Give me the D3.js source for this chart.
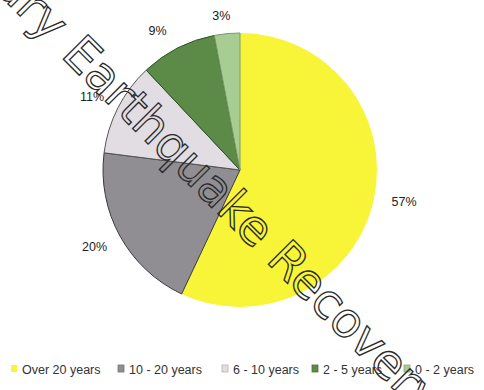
<!DOCTYPE html>
<html>
<head>
<meta charset="utf-8">
<script src="https://cdn.jsdelivr.net/npm/d3@7"></script>
<style>
  html, body { margin: 0; padding: 0; background: #fff; }
  svg { display: block; }
</style>
</head>
<body>
<script>
const categories = ["Over 20 years", "10 - 20 years", "6 - 10 years", "2 - 5 years", "0 - 2 years"];
const values = [57, 20, 11, 9, 3];
const labels = ["57%", "20%", "11%", "9%", "3%"];
const colors = ["#f8f438", "#908e93", "#e2dce3", "#5b8b47", "#a8cd92"];
const strokes = ["none", "#3a3a3a", "#555", "#2f4f2a", "#7a9a6a"];

const W = 484, H = 390;
const cx = 240, cy = 170, R = 137;

const svg = d3.select("body").append("svg").attr("width", W).attr("height", H);

const pie = d3.pie().sort(null).value(d => d.v);
const data = pie(categories.map((c, i) => ({ c, v: values[i], i })));
const arc = d3.arc().innerRadius(0).outerRadius(R);

const g = svg.append("g").attr("transform", `translate(${cx},${cy})`);
g.selectAll("path.slice")
  .data(data)
  .join("path")
  .attr("class", "slice")
  .attr("d", arc)
  .attr("fill", d => colors[d.data.i])
  .attr("stroke", d => strokes[d.data.i])
  .attr("stroke-width", 1);

// percent labels placed outside
const labelArc = d3.arc().innerRadius(166).outerRadius(166);
const labelOffsets = [[2, -4], [0, -3], [0, 2], [-7, 9], [-3, 11]];
g.selectAll("text.pct")
  .data(data)
  .join("text")
  .attr("class", "pct")
  .attr("transform", d => {
    const [x, y] = labelArc.centroid(d);
    const o = labelOffsets[d.data.i];
    return `translate(${x + o[0]},${y + o[1]})`;
  })
  .attr("text-anchor", "middle")
  .attr("dominant-baseline", "central")
  .attr("font-family", "Liberation Sans, Arial, sans-serif")
  .attr("font-size", 12.5)
  .attr("fill", "#222")
  .text(d => labels[d.data.i]);

// legend
const legendX = [11, 118, 222, 312, 404];
const lg = svg.append("g");
categories.forEach((c, i) => {
  lg.append("rect")
    .attr("x", legendX[i]).attr("y", 365)
    .attr("width", 6).attr("height", 7)
    .attr("fill", colors[i])
    .attr("stroke", i === 0 ? "none" : d3.color(colors[i]).darker(0.6))
    .attr("stroke-width", 0.8);
  lg.append("text")
    .attr("x", legendX[i] + 11).attr("y", 374)
    .attr("font-family", "Liberation Sans, Arial, sans-serif")
    .attr("font-size", 12.5)
    .attr("fill", "#333")
    .text(c);
});

// watermark (outlined text)
const wmAngle = 45;
svg.append("text")
  .attr("transform", `translate(60,56) rotate(${wmAngle})`)
  .attr("font-family", "DejaVu Sans, sans-serif")
  .attr("font-size", 48)
  .attr("fill", "none")
  .attr("stroke", "#2a2a2a")
  .attr("stroke-width", 1.3)
  .text("Earthquake Recovery");
svg.append("text")
  .attr("transform", `translate(48,44) rotate(${wmAngle})`)
  .attr("text-anchor", "end")
  .attr("font-family", "DejaVu Sans, sans-serif")
  .attr("font-size", 48)
  .attr("fill", "none")
  .attr("stroke", "#2a2a2a")
  .attr("stroke-width", 1.3)
  .text("Canterbury");
</script>
</body>
</html>
